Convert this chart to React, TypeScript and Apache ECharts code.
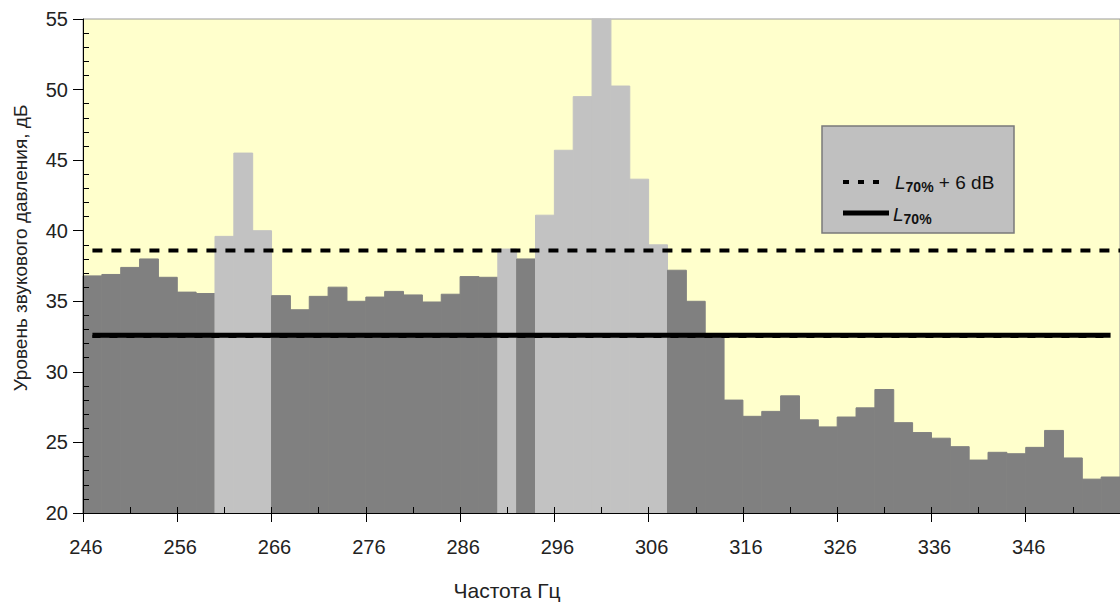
import React, { useEffect, useRef } from "react";
import * as echarts from "echarts";

// Bin start frequencies (Hz), each bin is 2 Hz wide
const binStarts = [
  246, 248, 250, 252, 254, 256, 258, 260, 262, 264,
  266, 268, 270, 272, 274, 276, 278, 280, 282, 284,
  286, 288, 290, 292, 294, 296, 298, 300, 302, 304,
  306, 308, 310, 312, 314, 316, 318, 320, 322, 324,
  326, 328, 330, 332, 334, 336, 338, 340, 342, 344,
  346, 348, 350, 352, 354,
];
const binWidth = 2;

// Sound pressure level per bin (dB)
const levels = [
  36.8, 36.9, 37.4, 38.0, 36.7, 35.65, 35.55, 39.6, 45.5, 40.0,
  35.4, 34.4, 35.35, 36.0, 35.0, 35.3, 35.7, 35.45, 34.95, 35.5,
  36.75, 36.7, 38.7, 38.0, 41.1, 45.7, 49.5, 55.0, 50.25, 43.65,
  39.0, 37.2, 35.0, 32.7, 28.0, 26.85, 27.2, 28.3, 26.6, 26.1,
  26.8, 27.45, 28.75, 26.4, 25.7, 25.3, 24.7, 23.75, 24.3, 24.2,
  24.65, 25.85, 23.9, 22.4, 22.55,
];

// Bins flagged as tonal components (light grey)
const tonalBins = [260, 262, 264, 290, 294, 296, 298, 300, 302, 304, 306];

// Reference levels
const L70 = 32.6;
const L70plus6 = 38.6;
const L70Range = [247, 355];
const L70plus6Range = [247, 356];

// Axes
const xMin = 246;
const xMax = 356;
const xMajor = 10;
const xMinor = 5;
const yMin = 20;
const yMax = 55;
const yMajor = 5;

const FONT = "'Liberation Sans', Arial, sans-serif";

export default function App() {
  const ref = useRef<HTMLDivElement>(null);

  useEffect(() => {
    if (!ref.current) return;
    const chart = echarts.init(ref.current, null, { renderer: "svg" });

    const barData = binStarts.map((s, i) => [
      s,
      s + binWidth,
      levels[i],
      tonalBins.includes(s) ? 1 : 0,
    ]);

    const yMinorTicks: number[] = [];
    for (let v = yMin; v <= yMax; v += 1) {
      if (v % yMajor !== 0) yMinorTicks.push(v);
    }

    const option: any = {
      animation: false,
      backgroundColor: "#ffffff",
      grid: {
        left: 83,
        right: 0,
        top: 19,
        bottom: 94,
        show: true,
        backgroundColor: "#ffffcc",
        borderColor: "#9a9a9a",
        borderWidth: 1,
      },
      xAxis: [
        {
          type: "value",
          min: xMin,
          max: xMax,
          interval: xMajor,
          position: "bottom",
          axisLine: { show: true, onZero: false, lineStyle: { color: "#000", width: 1 } },
          axisTick: { show: true, inside: false, length: 9, lineStyle: { color: "#000" } },
          axisLabel: {
            show: true,
            margin: 24,
            fontSize: 20,
            fontFamily: FONT,
            color: "#222",
            padding: [0, 0, 0, 6],
            showMaxLabel: false,
          },
          splitLine: { show: false },
          z: 10,
        },
        {
          type: "value",
          min: xMin,
          max: xMax,
          interval: xMinor,
          position: "bottom",
          axisLine: { show: false, onZero: false },
          axisTick: { show: true, inside: true, length: 6, lineStyle: { color: "#000" } },
          axisLabel: { show: false },
          splitLine: { show: false },
          z: 10,
        },
      ],
      yAxis: [
        {
          type: "value",
          min: yMin,
          max: yMax,
          interval: yMajor,
          position: "left",
          axisLine: { show: true, onZero: false, lineStyle: { color: "#000", width: 1 } },
          axisTick: { show: true, inside: false, length: 10, lineStyle: { color: "#000" } },
          axisLabel: {
            show: true,
            margin: 15,
            fontSize: 20,
            fontFamily: FONT,
            color: "#222",
          },
          splitLine: { show: false },
          z: 10,
        },
        {
          type: "value",
          min: yMin,
          max: yMax,
          interval: 1,
          position: "left",
          axisLine: { show: false, onZero: false },
          axisTick: {
            show: true,
            inside: true,
            length: 6,
            customValues: yMinorTicks,
            lineStyle: { color: "#000" },
          },
          axisLabel: { show: false },
          splitLine: { show: false },
          z: 10,
        },
      ],
      series: [
        {
          type: "custom",
          xAxisIndex: 0,
          yAxisIndex: 0,
          data: barData,
          encode: { x: [0, 1], y: 2 },
          renderItem: (params: any, api: any) => {
            const start = api.value(0);
            const end = api.value(1);
            const v = api.value(2);
            const tone = api.value(3);
            const p0 = api.coord([start, v]);
            const p1 = api.coord([end, yMin]);
            const color = tone ? "#c2c2c2" : "#808080";
            return {
              type: "rect",
              shape: {
                x: p0[0],
                y: p0[1],
                width: p1[0] - p0[0],
                height: p1[1] - p0[1],
              },
              style: { fill: color, stroke: color, lineWidth: 1 },
            };
          },
          z: 2,
        },
        {
          type: "line",
          name: "L70% dashed shadow",
          xAxisIndex: 0,
          yAxisIndex: 0,
          data: [
            [L70Range[0], L70 - 0.1],
            [L70Range[1], L70 - 0.1],
          ],
          symbol: "none",
          lineStyle: { color: "#000", width: 3, type: [8, 9] },
          silent: true,
          z: 4,
        },
        {
          type: "line",
          name: "L70%",
          xAxisIndex: 0,
          yAxisIndex: 0,
          data: [
            [L70Range[0], L70],
            [L70Range[1], L70],
          ],
          symbol: "none",
          lineStyle: { color: "#000", width: 5 },
          silent: true,
          z: 5,
        },
        {
          type: "line",
          name: "L70% + 6 dB",
          xAxisIndex: 0,
          yAxisIndex: 0,
          data: [
            [L70plus6Range[0], L70plus6],
            [L70plus6Range[1], L70plus6],
          ],
          symbol: "none",
          lineStyle: { color: "#000", width: 4, type: [10, 9] },
          silent: true,
          z: 5,
        },
      ],
      graphic: [
        {
          type: "text",
          x: 20,
          y: 248,
          rotation: Math.PI / 2,
          style: {
            text: "Уровень звукового давления, дБ",
            fontSize: 19,
            fontFamily: FONT,
            fill: "#222",
            align: "center",
            verticalAlign: "middle",
          },
        },
        {
          type: "text",
          x: 507,
          y: 590,
          style: {
            text: "Частота Гц",
            fontSize: 21,
            fontFamily: FONT,
            fill: "#222",
            align: "center",
            verticalAlign: "middle",
          },
        },
        {
          type: "group",
          z: 100,
          children: [
            {
              type: "rect",
              shape: { x: 822, y: 126, width: 192, height: 107 },
              style: { fill: "#c0c0c0", stroke: "#7a7a7a", lineWidth: 1.5 },
            },
            {
              type: "line",
              shape: { x1: 843, y1: 182, x2: 886, y2: 182 },
              style: { stroke: "#000", lineWidth: 4, lineDash: [6, 9] },
            },
            {
              type: "line",
              shape: { x1: 843, y1: 213, x2: 889, y2: 213 },
              style: { stroke: "#000", lineWidth: 5 },
            },
            {
              type: "text",
              x: 895,
              y: 182,
              style: {
                text: "{i|L}{s|70%}{n| + 6 dB}",
                verticalAlign: "middle",
                rich: {
                  i: { fontSize: 19, fontStyle: "italic", fontFamily: FONT, fill: "#111", verticalAlign: "middle" },
                  s: { fontSize: 14, fontWeight: "bold", fontFamily: FONT, fill: "#111", padding: [10, 0, 0, 0] },
                  n: { fontSize: 19, fontFamily: FONT, fill: "#111", verticalAlign: "middle" },
                },
              },
            },
            {
              type: "text",
              x: 893,
              y: 214,
              style: {
                text: "{i|L}{s|70%}",
                verticalAlign: "middle",
                rich: {
                  i: { fontSize: 19, fontStyle: "italic", fontFamily: FONT, fill: "#111", verticalAlign: "middle" },
                  s: { fontSize: 14, fontWeight: "bold", fontFamily: FONT, fill: "#111", padding: [10, 0, 0, 0] },
                },
              },
            },
          ],
        },
      ],
    };

    chart.setOption(option);
    return () => {
      chart.dispose();
    };
  }, []);

  return (
    <div
      ref={ref}
      style={{ position: "fixed", left: 0, top: 0, width: 1120, height: 607 }}
    />
  );
}
